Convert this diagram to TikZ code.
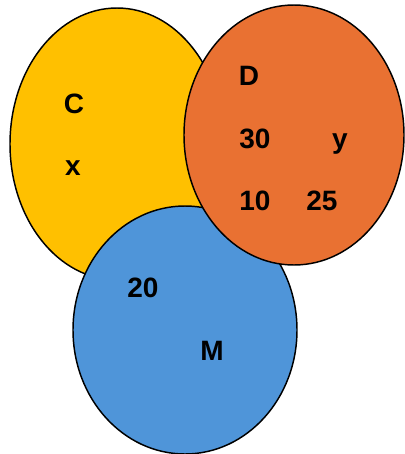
\documentclass[tikz,border=0pt]{standalone}
\usepackage{fontspec}
\setmainfont{Liberation Sans}
\begin{document}
\begin{tikzpicture}[x=0.75pt,y=-0.75pt,
  setshape/.style={draw=black,line width=1.1pt},
  lbl/.style={anchor=base,inner sep=0pt,font=\fontsize{21}{25}\selectfont\bfseries}]
\useasboundingbox (0,0) rectangle (404,454);
\definecolor{cyel}{HTML}{FFC000}
\definecolor{cora}{HTML}{E97132}
\definecolor{cblu}{HTML}{4F95D9}
\draw[setshape,fill=cyel] (117,144) ellipse [x radius=107, y radius=136];
\draw[setshape,fill=cblu] (185,330) ellipse [x radius=112, y radius=124];
\draw[setshape,fill=cora] (294,135) ellipse [x radius=110, y radius=130];
\node[lbl] (c) at (74,113) {C};
\node[lbl] (x) at (73,175) {x};
\node[lbl] (d) at (249,85) {D};
\node[lbl] (n30) at (255,148) {30};
\node[lbl] (y) at (340,148) {y};
\node[lbl] (n10) at (255,210) {10};
\node[lbl] (n25) at (322,210) {25};
\node[lbl] (n20) at (143,297) {20};
\node[lbl] (m) at (212,360) {M};
\end{tikzpicture}
\end{document}
